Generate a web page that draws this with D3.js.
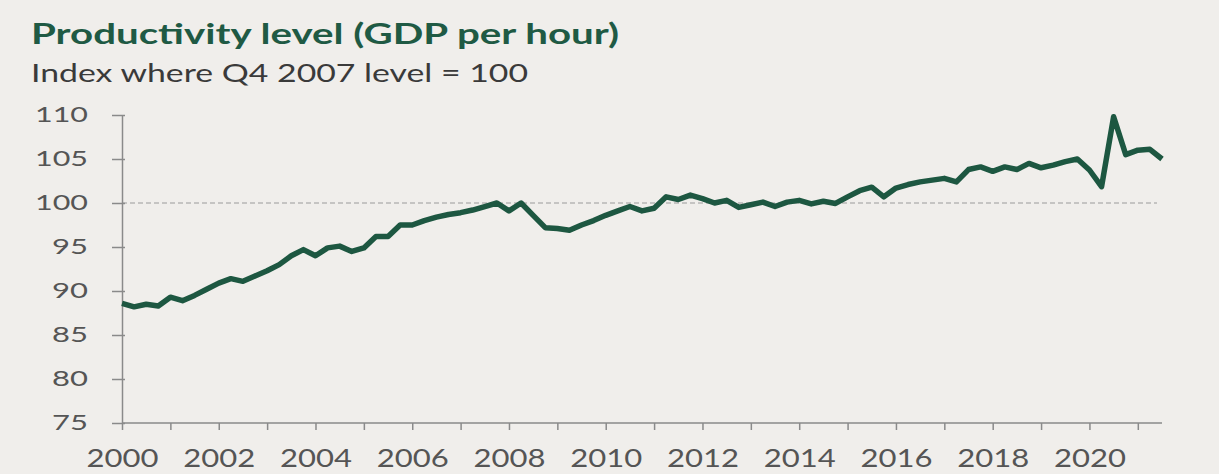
<!DOCTYPE html>
<html>
<head>
<meta charset="utf-8">
<script src="https://cdn.jsdelivr.net/npm/d3@7"></script>
<style>
  body { margin: 0; background: #f0eeeb; }
  svg { display: block; }
  .axis path, .axis line { stroke: #8a8a8a; stroke-width: 1.5px; }
  .axis text { fill: #555; font-family: Lato, "Open Sans", sans-serif; }
</style>
</head>
<body>
<div id="chart"></div>
<script>
// quarterly index, Q1 2000 .. Q3 2021 (Q4 2007 = 100)
const startYear = 2000;
const productivity = [
  88.6, 88.2, 88.5, 88.3,   // 2000
  89.3, 88.9, 89.5, 90.2,   // 2001
  90.9, 91.4, 91.1, 91.7,   // 2002
  92.3, 93.0, 94.0, 94.7,   // 2003
  94.0, 94.9, 95.1, 94.5,   // 2004
  94.9, 96.2, 96.2, 97.5,   // 2005
  97.5, 98.0, 98.4, 98.7,   // 2006
  98.9, 99.2, 99.6, 100.0,  // 2007
  99.1, 100.0, 98.6, 97.2,  // 2008
  97.1, 96.9, 97.5, 98.0,   // 2009
  98.6, 99.1, 99.6, 99.1,   // 2010
  99.4, 100.7, 100.4, 100.9, // 2011
  100.5, 100.0, 100.3, 99.5, // 2012
  99.8, 100.1, 99.6, 100.1,  // 2013
  100.3, 99.9, 100.2, 99.95, // 2014
  100.7, 101.4, 101.8, 100.7, // 2015
  101.7, 102.1, 102.4, 102.6, // 2016
  102.8, 102.4, 103.8, 104.1, // 2017
  103.6, 104.1, 103.8, 104.5, // 2018
  104.0, 104.3, 104.7, 105.0, // 2019
  103.75, 101.85, 109.8, 105.5, // 2020
  106.0, 106.1, 105.0        // 2021
];
const yTicks = [75, 80, 85, 90, 95, 100, 105, 110];
const xTicks = d3.range(2000, 2022);
const baseline = 100;

const title = "Productivity level (GDP per hour)";
const subtitle = "Index where Q4 2007 level = 100";

const width = 1219, height = 474;
const svg = d3.select("#chart").append("svg")
  .attr("width", width).attr("height", height);

svg.append("rect").attr("width", width).attr("height", height).attr("fill", "#f0eeeb");

const x = d3.scaleLinear().domain([2000, 2021.5]).range([122, 1162]);
const y = d3.scaleLinear().domain([75, 110]).range([423, 115]);

// titles
svg.append("text")
  .attr("x", 31).attr("y", 44)
  .attr("font-family", "Lato, 'Open Sans', sans-serif")
  .attr("font-weight", 700)
  .attr("font-size", 29)
  .attr("fill", "#1f5a44")
  .attr("textLength", 588)
  .attr("lengthAdjust", "spacingAndGlyphs")
  .text(title);

svg.append("text")
  .attr("x", 31).attr("y", 82)
  .attr("font-family", "Lato, 'Open Sans', sans-serif")
  .attr("font-size", 25)
  .attr("fill", "#3a3a3a")
  .attr("textLength", 497)
  .attr("lengthAdjust", "spacingAndGlyphs")
  .text(subtitle);

// reference line at 100
svg.append("line")
  .attr("x1", x(2000)).attr("x2", 1157)
  .attr("y1", y(baseline)).attr("y2", y(baseline))
  .attr("stroke", "#9a9a9a")
  .attr("stroke-width", 1)
  .attr("stroke-dasharray", "5,3");

// axes
const yAxis = svg.append("g")
  .attr("class", "axis")
  .attr("transform", `translate(${x(2000)},0)`)
  .call(d3.axisLeft(y).tickValues(yTicks).tickSize(10).tickPadding(24).tickSizeOuter(0));
yAxis.selectAll(".tick line").attr("x1", 3);
yAxis.selectAll("text")
  .attr("font-size", 21)
  .attr("textLength", d => String(d).length === 3 ? 53 : 36)
  .attr("lengthAdjust", "spacingAndGlyphs");

const xAxis = svg.append("g")
  .attr("class", "axis")
  .attr("transform", `translate(0,${y(75)})`)
  .call(d3.axisBottom(x).tickValues(xTicks).tickSize(7).tickSizeOuter(0)
    .tickFormat(d => d % 2 === 0 ? String(d) : ""));
xAxis.select(".domain").attr("d", `M${x(2000)},0H1162`);
xAxis.selectAll("text")
  .attr("font-size", 25)
  .attr("y", 44).attr("dy", 0)
  .each(function(d) {
    if (d % 2 === 0) d3.select(this).attr("textLength", 72).attr("lengthAdjust", "spacingAndGlyphs");
  });

// series
const line = d3.line()
  .x((d, i) => x(startYear + i / 4))
  .y(d => y(d));

svg.append("path")
  .datum(productivity)
  .attr("fill", "none")
  .attr("stroke", "#1d5741")
  .attr("stroke-width", 5.5)
  .attr("stroke-linejoin", "round")
  .attr("stroke-linecap", "butt")
  .attr("d", line);
</script>
</body>
</html>
